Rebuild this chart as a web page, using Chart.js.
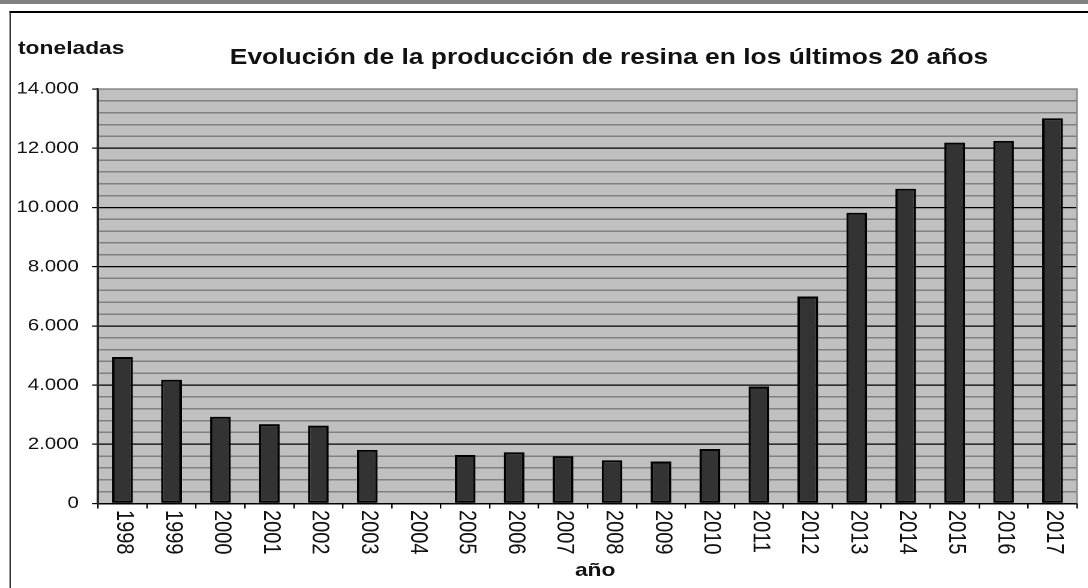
<!DOCTYPE html>
<html>
<head>
<meta charset="utf-8">
<script src="https://cdn.jsdelivr.net/npm/chart.js@4/dist/chart.umd.min.js"></script>
<style>
  html,body{margin:0;padding:0;background:#fff;overflow:hidden;width:1088px;height:588px;}
  /* the original picture is stretched 1.2x horizontally, so draw at 907px and stretch */
  #wrap{position:absolute;left:0;top:0;width:907px;height:588px;transform:scaleX(1.2);transform-origin:0 0;font-family:"Liberation Sans",Arial,sans-serif;color:#111;}
  #topbar{position:absolute;left:0;top:0;width:907px;height:4px;background:#808080;}
  #frame{position:absolute;left:7.5px;top:11px;width:1000px;height:700px;border-top:2px solid #000;border-left:1px solid #000;}
  #chart{position:absolute;left:0;top:0;}
  .lbl{position:absolute;font-weight:bold;line-height:1;white-space:nowrap;}
  #ytitle{left:15px;top:38px;font-size:19px;}
  #title{left:507.5px;top:46px;font-size:22px;transform:translateX(-50%);}
  #xtitle{left:496px;top:560px;font-size:19px;transform:translateX(-50%);}
</style>
</head>
<body>
<div id="wrap">
  <div id="topbar"></div>
  <div id="frame"></div>
  <canvas id="chart" width="907" height="588"></canvas>
  <div class="lbl" id="ytitle">toneladas</div>
  <div class="lbl" id="title">Evolución de la producción de resina en los últimos 20 años</div>
  <div class="lbl" id="xtitle">año</div>
</div>
<script>
const years=['1998','1999','2000','2001','2002','2003','2004','2005','2006','2007','2008','2009','2010','2011','2012','2013','2014','2015','2016','2017'];
const toneladas=[4950,4180,2930,2680,2630,1810,0,1640,1730,1600,1460,1420,1840,3950,6990,9820,10630,12190,12250,13010];
const yMax=14000;
const minorStep=400;
const majorStep=2000;

const fontFam='"Liberation Sans", Arial, sans-serif';

const plotBack={
  id:'plotBack',
  beforeDraw(chart){
    const {ctx,chartArea:a}=chart;
    ctx.save();
    ctx.fillStyle='#c0c0c0';
    ctx.fillRect(a.left,a.top,a.right-a.left,a.bottom-a.top);
    ctx.restore();
  },
  beforeDatasetsDraw(chart){
    const {ctx,chartArea:a}=chart;
    ctx.save();
    ctx.strokeStyle='#8c8c8c';
    ctx.lineWidth=1.5;
    ctx.beginPath();
    ctx.moveTo(a.left,a.top);
    ctx.lineTo(a.right,a.top);
    ctx.lineTo(a.right,a.bottom);
    ctx.stroke();
    ctx.restore();
  }
};

// year labels read top to bottom (turned clockwise)
const yearLabels={
  id:'yearLabels',
  afterDraw(chart){
    const {ctx}=chart;
    const xs=chart.scales.x;
    ctx.save();
    ctx.fillStyle='#111';
    ctx.font='20px '+fontFam;
    ctx.textAlign='left';
    ctx.textBaseline='middle';
    xs.ticks.forEach((t,i)=>{
      ctx.save();
      ctx.translate(xs.getPixelForTick(i)+1,510);
      ctx.rotate(Math.PI/2);
      ctx.fillText(years[i],0,0);
      ctx.restore();
    });
    ctx.restore();
  }
};

new Chart(document.getElementById('chart'),{
  type:'bar',
  data:{
    labels:years,
    datasets:[{
      data:toneladas,
      backgroundColor:'#333333',
      borderColor:'#000',
      borderWidth:2,
      borderSkipped:false,
      barPercentage:0.423,
      categoryPercentage:1
    }]
  },
  options:{
    responsive:false,
    devicePixelRatio:2,
    animation:false,
    layout:{padding:{left:0,top:89,right:9.5,bottom:0}},
    plugins:{legend:{display:false},tooltip:{enabled:false},title:{display:false}},
    scales:{
      x:{
        offset:true,
        grid:{offset:true,drawOnChartArea:false,drawTicks:true,tickLength:5,tickColor:'#000',lineWidth:1.2},
        border:{color:'#000',width:1.5},
        ticks:{display:false},
        afterFit(s){s.height=84.5;}
      },
      y:{
        min:0,max:yMax,
        border:{color:'#262626',width:2},
        grid:{
          color:c=>{const v=c.tick.value;if(v===yMax)return '#8c8c8c';return v%majorStep===0?'#000':'#808080';},
          lineWidth:c=>c.tick.value%majorStep===0?1.2:1.5,
          tickLength:5,
          tickColor:c=>c.tick.value%majorStep===0?'#000':'rgba(0,0,0,0)'
        },
        ticks:{
          stepSize:minorStep,
          autoSkip:false,
          padding:11,
          color:'#111',
          font:{family:fontFam,size:17},
          callback:v=>v%majorStep===0?v.toLocaleString('de-DE'):''
        },
        afterFit(s){s.width=81.7;}
      }
    }
  },
  plugins:[plotBack,yearLabels]
});
</script>
</body>
</html>
